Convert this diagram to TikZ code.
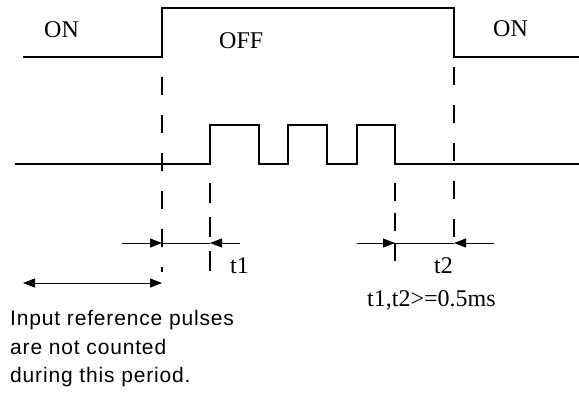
\documentclass[tikz,border=0pt]{standalone}
\usepackage{fontspec}
\setmainfont{Liberation Serif}
\newfontfamily\labelsans[LetterSpace=4]{Liberation Sans}
\usetikzlibrary{arrows.meta}
\begin{document}
\begin{tikzpicture}[x=1pt,y=-1pt,
  sig/.style={line width=1.2pt},
  dsh/.style={line width=1.2pt, dash pattern=on 18pt off 20pt},
  dim/.style={line width=1pt},
  tip/.style={-{Triangle[length=12pt,width=9pt]}},
  bothtip/.style={{Triangle[length=12pt,width=9pt]}-{Triangle[length=12pt,width=9pt]}},
  serif/.style={inner sep=0pt, anchor=base west, font=\fontsize{24}{28}\selectfont},
  sans/.style={inner sep=0pt, anchor=base west, font=\labelsans\fontsize{21}{28}\selectfont}]
\useasboundingbox (0,0) rectangle (579,392);
% control signal
\draw[sig] (23,57) -- (162,57) -- (162,8) -- (454,8) -- (454,57) -- (579,57);
% pulse train
\draw[sig] (15,164) -- (210,164) -- (210,125) -- (259,125) -- (259,164) -- (288,164)
  -- (288,125) -- (327,125) -- (327,164) -- (357,164) -- (357,125) -- (395,125)
  -- (395,164) -- (579,164);
% named points
\coordinate (d1top) at (162,77);  \coordinate (d1bot) at (162,272);
\coordinate (d2top) at (454,67);  \coordinate (d2bot) at (454,250);
\coordinate (d3top) at (210,183); \coordinate (d3bot) at (210,272);
\coordinate (d4top) at (395,183); \coordinate (d4bot) at (395,262);
\coordinate (a1) at (162,243); \coordinate (b1) at (210,243);
\coordinate (a1o) at (122,243); \coordinate (b1o) at (240,243);
\coordinate (a2) at (395,243); \coordinate (b2) at (454,243);
\coordinate (a2o) at (357,243); \coordinate (b2o) at (494,243);
\coordinate (pl) at (23,283); \coordinate (pr) at (162,283);
% dashed guides
\draw[dsh] (d1top) -- (d1bot);
\draw[dsh] (d2top) -- (d2bot);
\draw[dsh, dash pattern=on 20pt off 14pt] (d3top) -- (d3bot);
\draw[dsh, dash pattern=on 18pt off 12pt] (d4top) -- (d4bot);
% dimension arrows
\draw[dim,tip] (a1o) -- (a1);
\draw[dim] (a1) -- (b1);
\draw[dim,tip] (b1o) -- (b1);
\draw[dim,tip] (a2o) -- (a2);
\draw[dim] (a2) -- (b2);
\draw[dim,tip] (b2o) -- (b2);
\draw[dim,bothtip] (pl) -- (pr);
% labels
\node[serif] (on1) at (44,37) {ON};
\node[serif] (off) at (219,48) {OFF};
\node[serif] (on2) at (493,36) {ON};
\node[serif] (t1) at (230,273) {t1};
\node[serif] (t2) at (434,273) {t2};
\node[serif] (cond) at (367,306) {t1,t2>=0.5ms};
\node[sans] (l1) at (10,325) {Input reference pulses};
\node[sans] (l2) at (10,354) {are not counted};
\node[sans] (l3) at (10,382) {during this period.};
\end{tikzpicture}
\end{document}
